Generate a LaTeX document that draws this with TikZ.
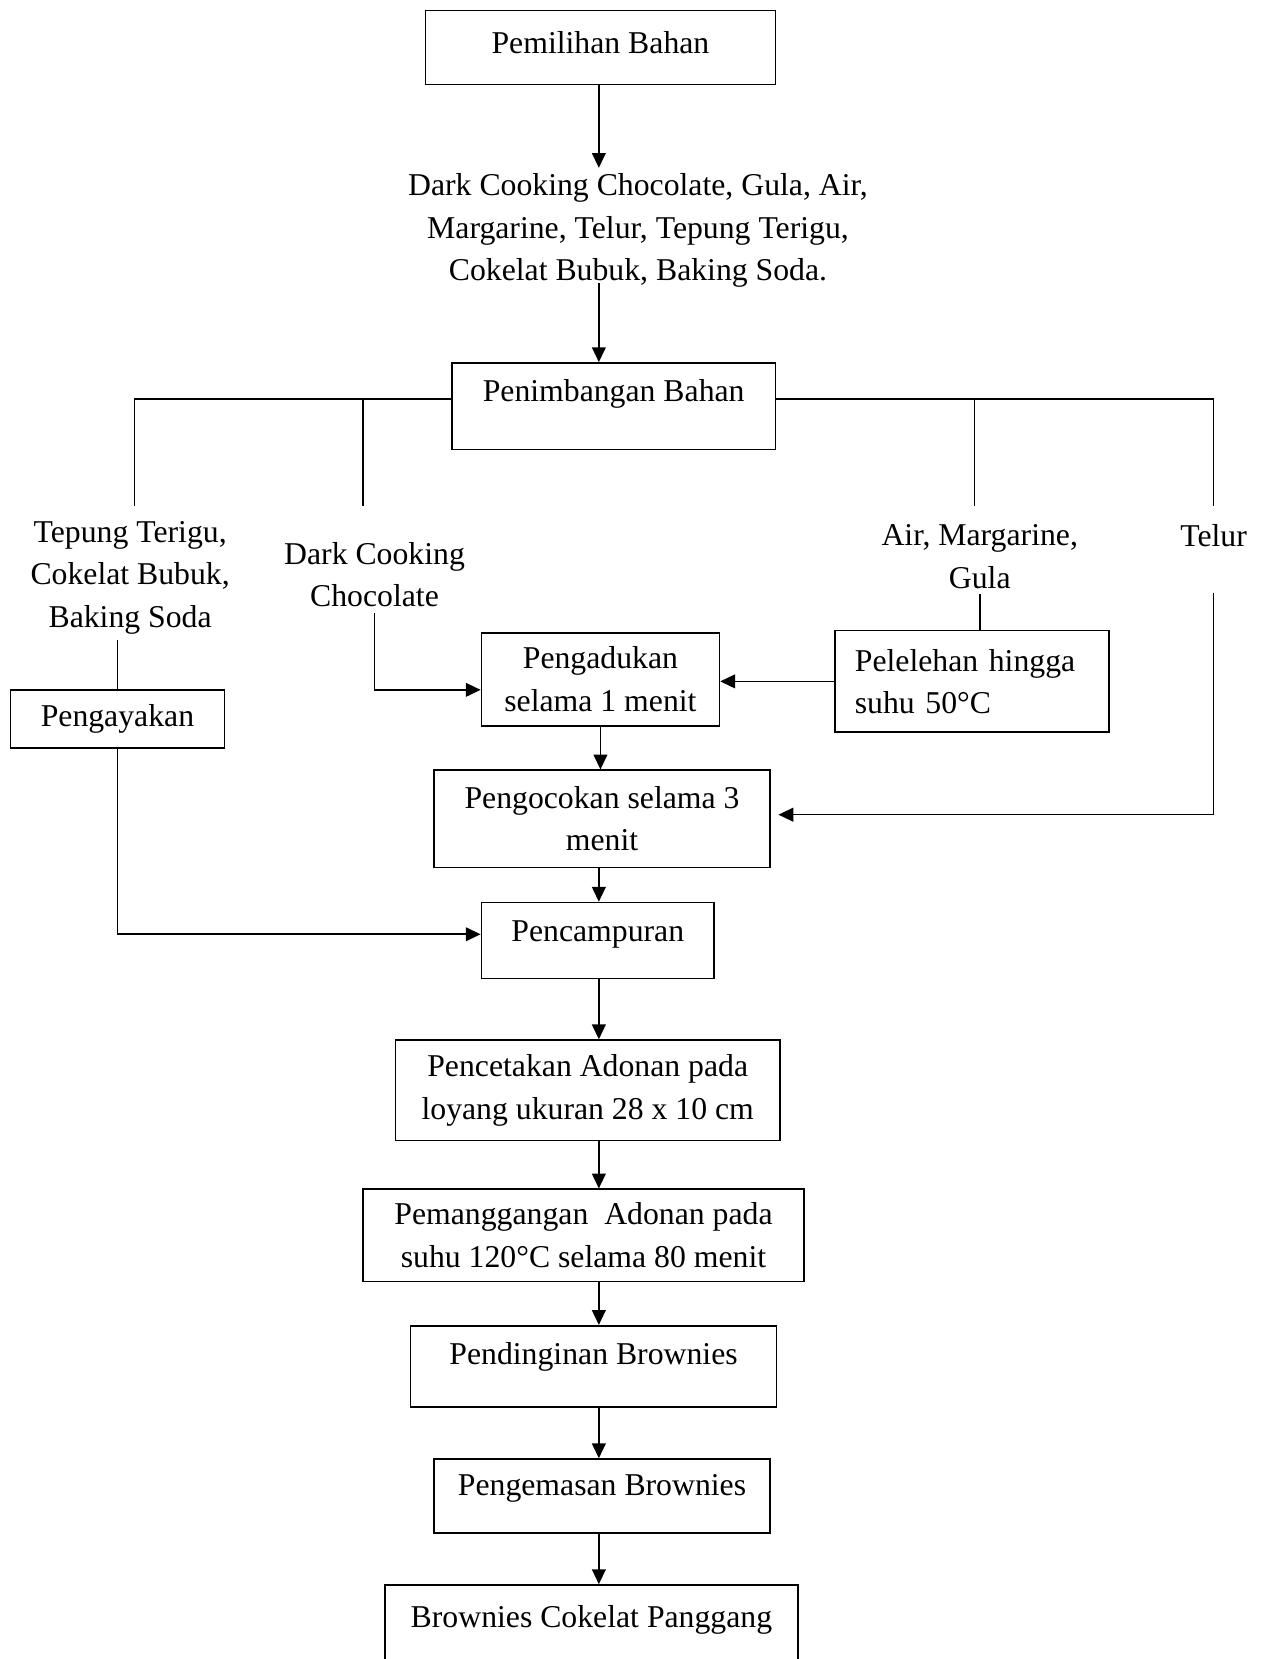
\documentclass[tikz,border=0pt]{standalone}
\usepackage{fontspec}
\setmainfont{Liberation Serif}
\usetikzlibrary{arrows.meta,calc}

\tikzset{every picture/.style={line width=0.6pt}}
\tikzset{
  box/.style={draw, align=center, inner sep=2pt},
  txt/.style={align=center, inner sep=2pt},
  arr/.style={-{Triangle[length=5.6pt,width=5.2pt]}},
}

\begin{document}
\begin{tikzpicture}[x=0.4pt,y=0.4pt,yscale=-1,xscale=1,font=\fontsize{12}{16}\selectfont]
\useasboundingbox (0,0) rectangle (1196,1568);
\coordinate (spine) at (566,0);

%Shape: Rectangle
\node[box, minimum width=132.4pt, minimum height=28pt, text depth=4pt] (pemilihan) at (567.5,45) {Pemilihan Bahan};
% Text Node
\node[txt] (bahan) at (603,218) {Dark Cooking Chocolate, Gula, Air,\\Margarine, Telur, Tepung Terigu,\\Cokelat Bubuk, Baking Soda.};
%Shape: Rectangle
\node[box, minimum width=122.4pt, minimum height=32.8pt, text depth=12.2pt] (penimbangan) at (580,384) {Penimbangan Bahan};

% Text Node
\node[txt] (tepung) at (123,546) {Tepung Terigu,\\Cokelat Bubuk,\\Baking Soda};
% Text Node
\node[txt] (dcc) at (354,543) {Dark Cooking\\Chocolate};
% Text Node
\node[txt] (amg) at (926,526) {Air, Margarine,\\Gula};
% Text Node
\node[txt] (telur) at (1147,506) {Telur};

%Shape: Rectangle
\node[box, minimum width=80.8pt, minimum height=22pt] (pengayakan) at (111,679.5) {Pengayakan};
%Shape: Rectangle
\node[box, minimum width=90pt, minimum height=35.2pt] (pengadukan) at (567.5,642) {Pengadukan\\selama 1 menit};
%Shape: Rectangle
\node[box, minimum width=103.6pt, minimum height=38.4pt, text width=88.4pt, align=left, inner xsep=7.6pt] (pelelehan) at (918.5,644) {Pelelehan hingga\\suhu 50°C};
%Shape: Rectangle
\node[box, minimum width=127.2pt, minimum height=36.8pt] (pengocokan) at (569,774) {Pengocokan selama 3\\menit};
%Shape: Rectangle
\node[box, minimum width=88pt, minimum height=28.8pt, text depth=7.4pt] (pencampuran) at (565,889) {Pencampuran};
%Shape: Rectangle
\node[box, minimum width=145.2pt, minimum height=38pt] (pencetakan) at (555.5,1030.5) {Pencetakan Adonan pada\\loyang ukuran 28 x 10 cm};
%Shape: Rectangle
\node[box, minimum width=166.8pt, minimum height=34.8pt] (pemanggangan) at (551.5,1167.5) {Pemanggangan~ Adonan pada\\suhu 120°C selama 80 menit};
%Shape: Rectangle
\node[box, minimum width=138.4pt, minimum height=30.8pt, text depth=9.8pt] (pendinginan) at (561,1291.5) {Pendinginan Brownies};
%Shape: Rectangle
\node[box, minimum width=127.2pt, minimum height=28pt, text depth=8.2pt] (pengemasan) at (569,1414) {Pengemasan Brownies};
%Shape: Rectangle
\node[box, minimum width=156pt, minimum height=36.8pt, text depth=13pt] (brownies) at (559,1544) {Brownies Cokelat Panggang};

%Straight Lines
\draw[arr] (pemilihan.south -| spine) -- (spine |- bahan.north);
\draw[arr] ($(spine |- bahan.south)+(0,-10)$) -- (spine |- penimbangan.north);

%Straight Lines
\coordinate (bl) at ([yshift=-2.8pt]penimbangan.west);
\coordinate (br) at ([yshift=-2.8pt]penimbangan.east);
\coordinate (tepungtop) at (127,478);
\coordinate (dcctop) at (343,478);
\coordinate (amgtop) at (921,478);
\coordinate (telurtop) at (1147,478);
\coordinate (telurbot) at (1147,560);
\draw (bl) -| (tepungtop);
\draw (dcctop) -- (dcctop |- bl);
\draw (br) -| (telurtop);
\draw (amgtop) -- (amgtop |- br);

%Straight Lines
\draw (tepung.south -| pengayakan.north) -- (pengayakan.north);
\draw[arr] (pengayakan.south) |- ([yshift=-2.4pt]pencampuran.west);
\draw[arr] (dcc.south) |- ([yshift=4pt]pengadukan.west);
\draw (amg.south) -- (amg.south |- pelelehan.north);
\draw[arr] (pelelehan.west) -- (pelelehan.west -| pengadukan.east);
\draw[arr] (pengadukan.south) -- (pengadukan.south |- pengocokan.north);
\draw[arr] (telurbot) |- ([xshift=2.8pt,yshift=-1.6pt]pengocokan.east);

%Straight Lines
\draw[arr] (spine |- pengocokan.south) -- (spine |- pencampuran.north);
\draw[arr] (spine |- pencampuran.south) -- (spine |- pencetakan.north);
\draw[arr] (spine |- pencetakan.south) -- (spine |- pemanggangan.north);
\draw[arr] (spine |- pemanggangan.south) -- (spine |- pendinginan.north);
\draw[arr] (spine |- pendinginan.south) -- (spine |- pengemasan.north);
\draw[arr] (spine |- pengemasan.south) -- (spine |- brownies.north);

\end{tikzpicture}
\end{document}
